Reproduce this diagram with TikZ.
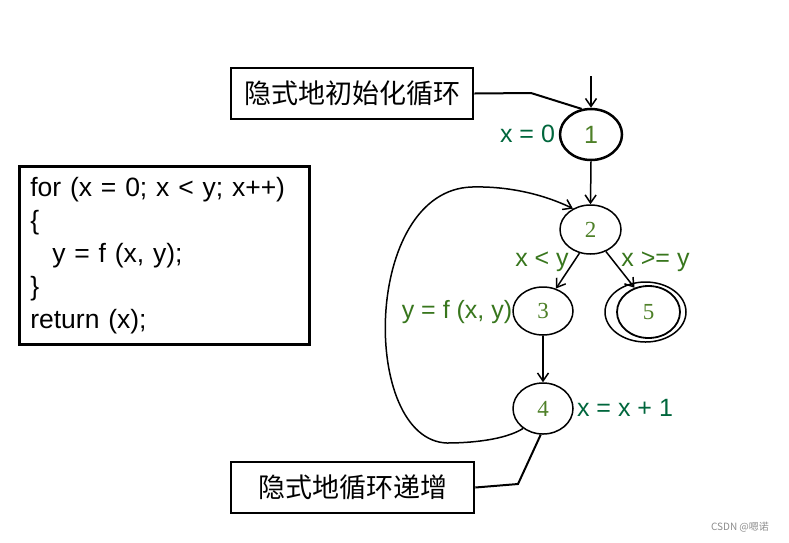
\documentclass[tikz,border=0pt]{standalone}
\usepackage{fontspec}
\setmainfont{Liberation Serif}
\newfontfamily\arialf{Liberation Sans}
\newfontfamily\cjkf{Noto Sans CJK SC}
\usetikzlibrary{shapes.geometric,arrows.meta}
\definecolor{labA}{RGB}{0,102,60}
\definecolor{labB}{RGB}{56,118,29}
\definecolor{digit}{RGB}{78,128,40}
\tikzset{
  every picture/.style={x=1pt,y=-1pt},
  state/.style={ellipse,draw,line width=1.5pt,minimum width=61pt,minimum height=49pt,inner sep=0pt,
    font=\fontsize{23}{23}\selectfont, text=digit},
  cjkbox/.style={draw,line width=2.6pt,minimum width=242pt,minimum height=51pt,inner sep=0pt,
    font=\cjkf\fontsize{27}{27}\selectfont},
  lbl/.style={inner sep=0pt,font=\arialf\fontsize{25}{25}\selectfont},
  arr/.style={line width=1.5pt,-{Straight Barb[length=8pt,width=11pt,line width=1.5pt]}},
  conn/.style={line width=2pt},
}
\begin{document}
\begin{tikzpicture}
\useasboundingbox (0,0) rectangle (789,542);
% code box
\node[draw,line width=2.6pt,anchor=north west,text width=268pt,inner xsep=11pt,minimum height=178pt,
  align=left,font=\arialf\fontsize{26.5}{33}\selectfont] (code) at (18,165)
  {for (x = 0; x < y; x++)\\ \{\\ \hspace*{22pt}y = f (x, y);\\ \}\\ return (x);};
% states
\node[state,line width=2.5pt,minimum width=62pt,minimum height=51pt,font=\arialf\fontsize{25}{25}\selectfont] (n1) at (591,134.5) {1};
\node[state] (n2) at (590.5,229.5) {2};
\node[state,minimum width=60pt,minimum height=48pt] (n3) at (543,311) {3};
\node[state,minimum width=60pt,minimum height=51pt] (n4) at (543,408.5) {4};
\node[ellipse,draw,line width=1.5pt,minimum width=81pt,minimum height=60pt,inner sep=0pt] (n5) at (645.5,312) {};
\node[state,line width=1.8pt,minimum width=63pt,minimum height=52pt] (n5i) at (648.5,312) {5};
% boxes
\node[cjkbox] (b1) at (352,93.5) {隐式地初始化循环};
\node[cjkbox,minimum width=243pt] (b2) at (352.5,487.5) {隐式地循环递增};
% labels
\node[lbl,text=labA] (l0) at (527.5,134) {x = 0};
\node[lbl,text=labB] (l1) at (542,262) {x < y};
\node[lbl,text=labB] (l2) at (655.5,262) {x >= y};
\node[lbl,text=labB] (l3) at (457,312) {y = f (x, y)};
\node[lbl,text=labA] (l4) at (625,408) {x = x + 1};
% coordinates
\coordinate (entry) at (591,76);
\coordinate (k1) at (531,93);
\coordinate (k2) at (518,484);
% edges
\draw[arr] (entry) -- (n1.north);
\draw[arr] (n1.south) -- (n2.north);
\draw[arr] (n2.-115) -- (n3.60);
\draw[arr] (n2.-55) -- (n5i.120);
\draw[arr] (n3.south) -- (n4.north);
\draw[arr] (n4.225) .. controls (505,440) and (470,443) .. (447,443)
  .. controls (360,440) and (362,190) .. (472,187)
  .. controls (510,186) and (545,195) .. (n2.130);
\draw[conn] (b1.east) -- (k1) -- (n1.110);
\draw[conn] (b2.east) -- (k2) -- (n4.-95);
% watermark
\node[inner sep=0pt,text=black!45,font=\cjkf\fontsize{10}{10}\selectfont] (wm) at (740,527) {CSDN @嗯诺};
\end{tikzpicture}
\end{document}
